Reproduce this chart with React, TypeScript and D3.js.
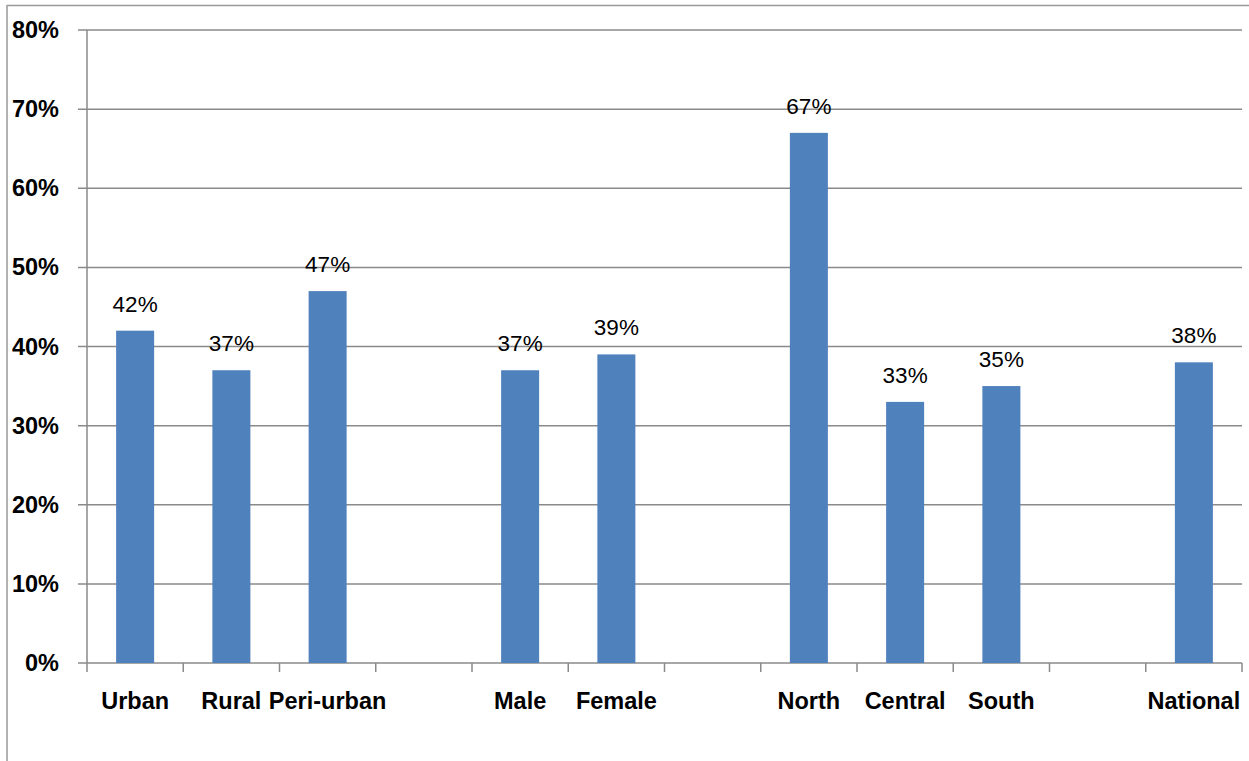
import * as d3 from "d3";

const categories = ["Urban", "Rural", "Peri-urban", "", "Male", "Female", "", "North", "Central", "South", "", "National"];
const values: (number | null)[] = [42, 37, 47, null, 37, 39, null, 67, 33, 35, null, 38];
const yTicks = [0, 10, 20, 30, 40, 50, 60, 70, 80];

const WIDTH = 1249;
const HEIGHT = 761;
const MARGIN = { top: 30, right: 7, bottom: 98, left: 87 };
const BAR_COLOR = "#4F81BD";
const GRID_COLOR = "#8a8a8a";
const FONT = "Liberation Sans, Arial, sans-serif";

export default function App() {
  const boundsWidth = WIDTH - MARGIN.left - MARGIN.right;
  const boundsHeight = HEIGHT - MARGIN.top - MARGIN.bottom;

  const slots = categories.map((_, i) => String(i));
  const xScale = d3.scaleBand().domain(slots).range([0, boundsWidth]).paddingInner(0.605).paddingOuter(0.3025);
  const slotScale = d3.scaleBand().domain(slots).range([0, boundsWidth]);
  const yScale = d3.scaleLinear().domain([0, 80]).range([boundsHeight, 0]);

  return (
    <svg width={WIDTH} height={HEIGHT} style={{ position: "absolute", left: 0, top: 0, background: "#fff" }}>
      {/* chart frame */}
      <line x1={7} x2={WIDTH} y1={5.5} y2={5.5} stroke="#999" strokeWidth={1.5} />
      <line x1={7} x2={7} y1={5} y2={HEIGHT} stroke="#999" strokeWidth={1.5} />
      <g transform={`translate(${MARGIN.left},${MARGIN.top})`}>
        {/* grid + y labels */}
        {yTicks.map((t) => (
          <g key={t}>
            <line x1={-9} x2={boundsWidth} y1={yScale(t)} y2={yScale(t)} stroke={GRID_COLOR} strokeWidth={1.5} />
            <text
              x={-28}
              y={yScale(t)}
              textAnchor="end"
              dominantBaseline="central"
              fontFamily={FONT}
              fontWeight="bold"
              fontSize={23.5}
              fill="#000"
            >
              {t}%
            </text>
          </g>
        ))}
        {/* y axis */}
        <line x1={0} x2={0} y1={0} y2={boundsHeight} stroke={GRID_COLOR} strokeWidth={1.5} />
        {/* x ticks */}
        {slots.concat(["end"]).map((s, i) => {
          const x = i < slots.length ? slotScale(s)! : boundsWidth;
          return <line key={i} x1={x} x2={x} y1={boundsHeight} y2={boundsHeight + 9} stroke={GRID_COLOR} strokeWidth={1.5} />;
        })}
        {/* bars */}
        {values.map((v, i) =>
          v === null ? null : (
            <g key={i}>
              <rect
                x={xScale(String(i))}
                y={yScale(v)}
                width={xScale.bandwidth()}
                height={boundsHeight - yScale(v)}
                fill={BAR_COLOR}
              />
              <text
                x={xScale(String(i))! + xScale.bandwidth() / 2}
                y={yScale(v) - 19}
                textAnchor="middle"
                fontFamily={FONT}
                fontSize={22.5}
                fill="#000"
              >
                {v}%
              </text>
            </g>
          )
        )}
        {/* x labels */}
        {categories.map((c, i) => (
          <text
            key={i}
            x={slotScale(String(i))! + slotScale.bandwidth() / 2}
            y={boundsHeight + 46}
            textAnchor="middle"
            fontFamily={FONT}
            fontWeight="bold"
            fontSize={23.5}
            fill="#000"
          >
            {c}
          </text>
        ))}
      </g>
    </svg>
  );
}
